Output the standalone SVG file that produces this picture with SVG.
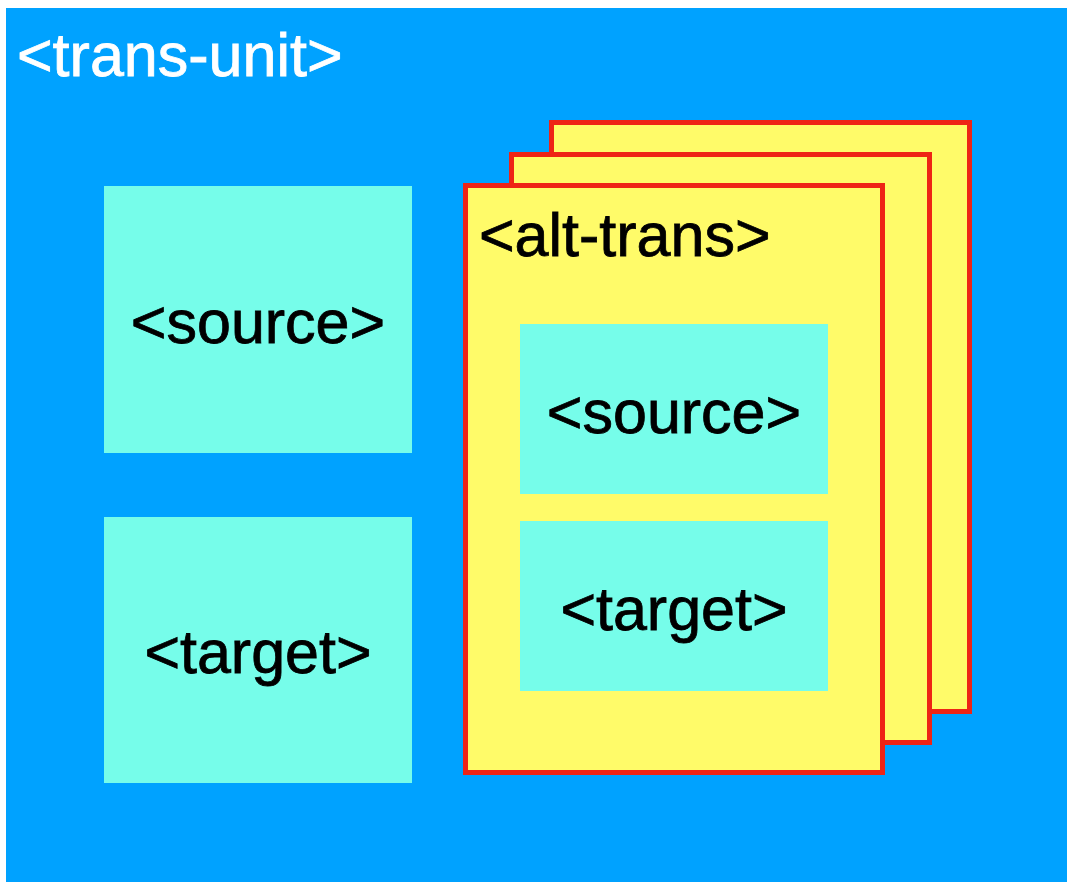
<svg xmlns="http://www.w3.org/2000/svg" width="1067" height="882" viewBox="0 0 1067 882">
  <style>
    .lbl { font-family: "Liberation Sans", Arial, Helvetica, sans-serif; font-size: 61px; stroke-width: 0.8; }
    .white { fill: #ffffff; stroke: #ffffff; }
    .black { fill: #000000; stroke: #000000; }
    .mid { text-anchor: middle; }
    .element { fill: #76fdea; }
    .card { fill: #fffb69; stroke: #ee2415; stroke-width: 5; }
  </style>

  <!-- outer trans-unit container -->
  <g id="trans-unit">
    <rect x="6" y="8" width="1061" height="874" fill="#00a2ff"/>
    <text class="lbl white" x="17" y="76" font-size="65">&lt;trans-unit&gt;</text>
  </g>

  <g id="source">
    <rect class="element" x="104" y="186" width="308" height="267"/>
    <text class="lbl black mid" x="258" y="343">&lt;source&gt;</text>
  </g>

  <g id="target">
    <rect class="element" x="104" y="517" width="308" height="266"/>
    <text class="lbl black mid" x="258" y="673">&lt;target&gt;</text>
  </g>

  <!-- stacked alt-trans cards, back to front -->
  <g id="alt-trans-3">
    <rect class="card" x="551.5" y="122.5" width="418" height="589"/>
  </g>
  <g id="alt-trans-2">
    <rect class="card" x="511.5" y="154.5" width="418" height="588"/>
  </g>
  <g id="alt-trans">
    <rect class="card" x="465.5" y="185.5" width="417" height="587"/>
    <text class="lbl black" x="479" y="256">&lt;alt-trans&gt;</text>
  </g>

  <g id="alt-source">
    <rect class="element" x="520" y="324" width="308" height="170"/>
    <text class="lbl black mid" x="674" y="433">&lt;source&gt;</text>
  </g>

  <g id="alt-target">
    <rect class="element" x="520" y="521" width="308" height="170"/>
    <text class="lbl black mid" x="674" y="630">&lt;target&gt;</text>
  </g>

  <g id="connectors"/>
</svg>
